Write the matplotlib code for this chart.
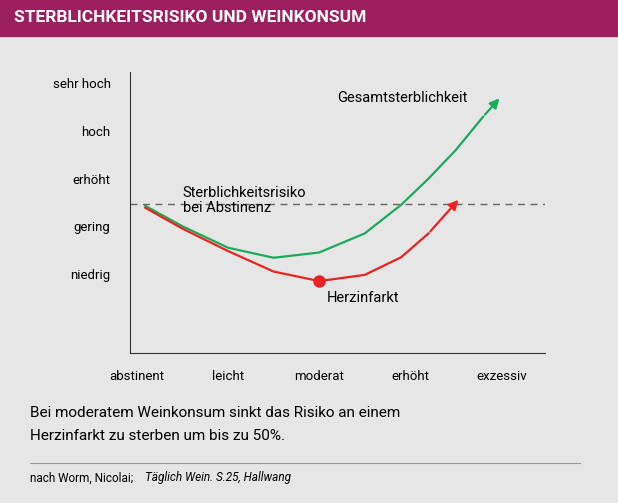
import matplotlib.pyplot as plt

plt.rcParams["font.family"] = "Roboto"

# data
y_levels = ["niedrig", "gering", "erhöht", "hoch", "sehr hoch"]
x_levels = ["abstinent", "leicht", "moderat", "erhöht", "exzessiv"]
abstinence_risk = 2.47

total_x = [0.09, 0.5, 1.0, 1.5, 2.0, 2.5, 2.9, 3.2, 3.5, 3.8, 4.0]
total_y = [2.43, 2.0, 1.55, 1.34, 1.45, 1.85, 2.45, 3.0, 3.6, 4.3, 4.73]
heart_x = [0.09, 0.5, 1.0, 1.5, 2.0, 2.5, 2.9, 3.2, 3.55]
heart_y = [2.39, 1.95, 1.48, 1.05, 0.85, 0.98, 1.35, 1.85, 2.6]
heart_min = (2.0, 0.85)

BG = "#e6e6e6"
HEADER = "#9c1f5f"
GREEN = "#1aab5a"
RED = "#ee2222"
W, H = 618, 503

fig = plt.figure(figsize=(W / 100, H / 100), dpi=100, facecolor=BG)

def fx(px):
    return px / W

def fy(py):
    return 1 - py / H

fig.patches.append(plt.Rectangle((0, fy(36)), 1, 36 / H, transform=fig.transFigure,
                                 color=HEADER, zorder=0))
fig.text(fx(14), fy(18), "STERBLICHKEITSRISIKO UND WEINKONSUM", color="white",
         fontsize=12.5, fontweight="bold", va="center")

ax = fig.add_axes([fx(130), fy(353), 415 / W, 281 / H])
ax.set_facecolor(BG)
ax.set_xlim(-0.077, 4.48)
ax.set_ylim(-0.66, 5.24)
for s in ["top", "right"]:
    ax.spines[s].set_visible(False)
ax.spines["left"].set_color("#333333")
ax.spines["bottom"].set_color("#333333")
ax.set_yticks(range(1, 6))
ax.set_yticklabels(y_levels, fontsize=9.5)
ax.set_xticks(range(5))
ax.set_xticklabels(x_levels, fontsize=9.5)
ax.tick_params(length=0)
ax.tick_params(axis="y", pad=14)
ax.tick_params(axis="x", pad=12)

ax.axhline(abstinence_risk, color="#666666", linestyle=(0, (5, 4)), linewidth=1)

ax.plot(total_x[:-1], total_y[:-1], color=GREEN, linewidth=1.6)
ax.annotate("", xy=(total_x[-1], total_y[-1]), xytext=(total_x[-2], total_y[-2]),
            arrowprops=dict(arrowstyle="-|>", color=GREEN, lw=1.6, mutation_scale=14))
ax.plot(heart_x[:-1], heart_y[:-1], color=RED, linewidth=1.6)
ax.annotate("", xy=(heart_x[-1], heart_y[-1]), xytext=(heart_x[-2], heart_y[-2]),
            arrowprops=dict(arrowstyle="-|>", color=RED, lw=1.6, mutation_scale=14))
ax.plot(*heart_min, "o", color=RED, markersize=8)

ax.text(2.2, 4.7, "Gesamtsterblichkeit", fontsize=10.5, va="center")
ax.text(0.5, 2.55, "Sterblichkeitsrisiko\nbei Abstinenz", fontsize=10.5, va="center",
        linespacing=1.1)
ax.text(2.08, 0.5, "Herzinfarkt", fontsize=10.5, va="center")

fig.text(fx(30), fy(413), "Bei moderatem Weinkonsum sinkt das Risiko an einem",
         fontsize=11, va="center")
fig.text(fx(30), fy(436), "Herzinfarkt zu sterben um bis zu 50%.", fontsize=11, va="center")
fig.add_artist(plt.Line2D([fx(30), fx(580)], [fy(463), fy(463)], color="#999999", lw=0.8))
fig.text(fx(30), fy(478), "nach Worm, Nicolai;", fontsize=8.5, va="center")
fig.text(fx(145), fy(478), "Täglich Wein. S.25, Hallwang", fontsize=8.5, va="center",
         style="italic")

fig.savefig("out.png", dpi=100, facecolor=BG)
